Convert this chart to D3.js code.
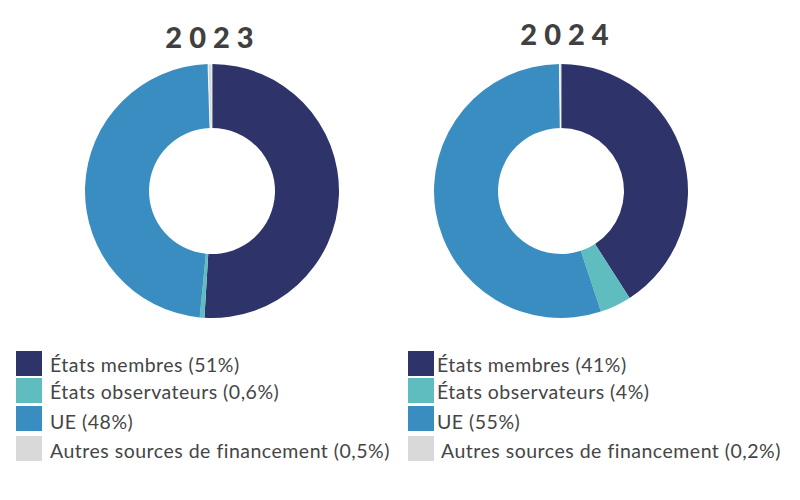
<!DOCTYPE html>
<html><head><meta charset="utf-8">
<script src="https://cdn.jsdelivr.net/npm/d3@7"></script>
<style>body{margin:0;background:#fff}svg{display:block}</style>
</head><body><svg id="c" width="800" height="500"></svg>
<script>
const categories = ["États membres", "États observateurs", "UE", "Autres sources de financement"];
const years = ["2023", "2024"];
const values2023 = [51, 0.6, 48, 0.5];
const values2024 = [41, 4, 55, 0.2];
const labels2023 = ["51%", "0,6%", "48%", "0,5%"];
const labels2024 = ["41%", "4%", "55%", "0,2%"];
const colors = ["#2e3369", "#5fbcbf", "#3a8dc0", "#d9d9d9"];

const svg = d3.select("#c");
const color = d3.scaleOrdinal().domain(categories).range(colors);
const pie = d3.pie().sort(null).value(d => d.v);
const arc = d3.arc().innerRadius(63).outerRadius(127);

const panels = [
  {year: years[0], vals: values2023, labs: labels2023, cx: 212, cy: 191, tx: 213, ty: 48, lx: 16, ltx: 50},
  {year: years[1], vals: values2024, labs: labels2024, cx: 561, cy: 191, tx: 568, ty: 45, lx: 408, ltx: 437}
];
const rowY = [351, 378, 406, 436];
const rowText = [372, 399, 429, 458];

panels.forEach(p => {
  const data = categories.map((c, i) => ({c, v: p.vals[i]}));
  const g = svg.append("g").attr("transform", `translate(${p.cx},${p.cy})`);
  g.selectAll("path").data(pie(data)).join("path")
    .attr("d", arc).attr("fill", d => color(d.data.c))
    .attr("stroke", d => d.data.c === categories[3] ? "#fff" : "none")
    .attr("stroke-width", 0.8);
  svg.append("text").attr("x", p.tx).attr("y", p.ty).attr("text-anchor", "middle")
    .attr("font-family", "Lato").attr("font-weight", 900).attr("font-size", 29)
    .attr("letter-spacing", 7).attr("fill", "#404040").text(p.year);
  const lg = svg.append("g");
  categories.forEach((c, i) => {
    lg.append("rect").attr("x", p.lx).attr("y", rowY[i]).attr("width", 26).attr("height", 25).attr("fill", color(c));
    lg.append("text").attr("x", p.ltx + (p.lx > 300 && i === 3 ? 4 : 0)).attr("y", rowText[i])
      .attr("font-family", "Lato").attr("font-weight", 400).attr("font-size", 19.5)
      .attr("letter-spacing", 0.5).attr("fill", "#454545")
      .text(`${c} (${p.labs[i]})`);
  });
});
</script></body></html>
